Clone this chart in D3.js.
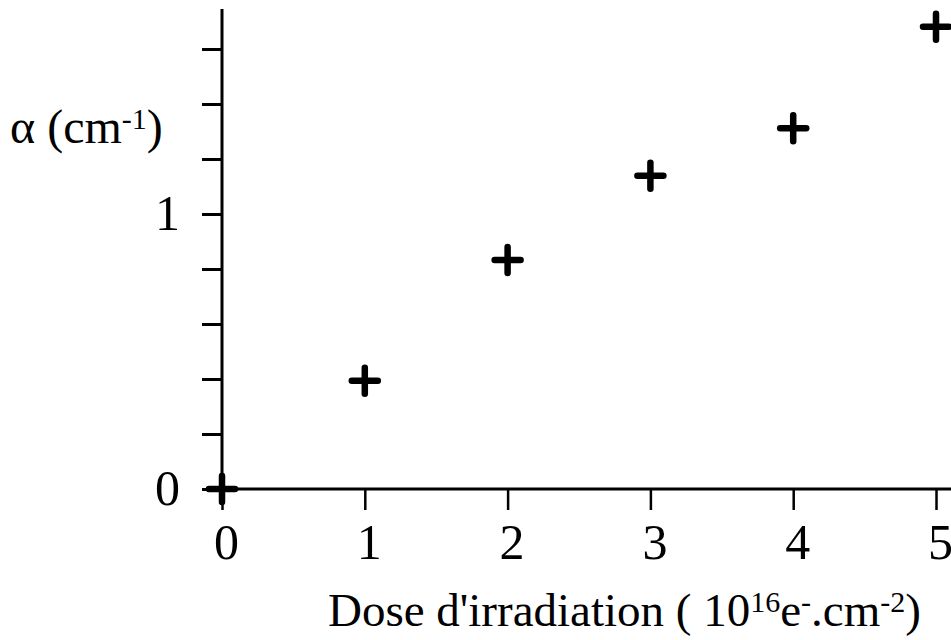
<!DOCTYPE html>
<html>
<head>
<meta charset="utf-8">
<script src="https://cdn.jsdelivr.net/npm/d3@7"></script>
<style>
  html, body { margin: 0; padding: 0; background: #fff; }
  svg { display: block; }
  text { font-family: "Liberation Serif", "DejaVu Serif", serif; fill: #000; }
</style>
</head>
<body>
<svg id="chart" width="951" height="640"></svg>
<script>
// Irradiation dose (10^16 e-/cm2) and absorption coefficient alpha (cm-1)
const doses = [0, 1, 2, 3, 4, 5];
const alphas = [0, 0.394, 0.833, 1.139, 1.312, 1.681];
const xTicks = [0, 1, 2, 3, 4, 5];
const yTicks = [0, 0.2, 0.4, 0.6, 0.8, 1, 1.2, 1.4, 1.6];
const yLabelled = [0, 1];

const svg = d3.select("#chart");

const x = d3.scaleLinear().domain([0, 5]).range([222, 936]);
const y = d3.scaleLinear().domain([0, 1]).range([489, 214]);

// Axis lines
svg.append("line")
  .attr("x1", 215).attr("x2", 951)
  .attr("y1", y(0)).attr("y2", y(0))
  .attr("stroke", "#000").attr("stroke-width", 3);
svg.append("line")
  .attr("x1", x(0)).attr("x2", x(0))
  .attr("y1", 9).attr("y2", y(0) + 2)
  .attr("stroke", "#000").attr("stroke-width", 3);

// X axis ticks and labels
const xAxis = d3.axisBottom(x)
  .tickValues(xTicks)
  .tickSize(21)
  .tickPadding(13)
  .tickFormat(d3.format("d"));
const gx = svg.append("g")
  .attr("transform", `translate(0,${y(0)})`)
  .call(xAxis);
gx.select(".domain").remove();
gx.selectAll(".tick line").attr("stroke", "#000").attr("stroke-width", 2.5);
gx.selectAll(".tick text")
  .attr("font-family", "Liberation Serif, serif")
  .attr("font-size", 50)
  .attr("dx", 4)
  .attr("fill", "#000");

// Y axis ticks and labels
const yAxis = d3.axisLeft(y)
  .tickValues(yTicks)
  .tickSize(20)
  .tickPadding(22)
  .tickFormat(d => yLabelled.includes(d) ? d3.format("d")(d) : "");
const gy = svg.append("g")
  .attr("transform", `translate(${x(0)},0)`)
  .call(yAxis);
gy.select(".domain").remove();
gy.selectAll(".tick line").attr("stroke", "#000").attr("stroke-width", 3);
gy.selectAll(".tick text")
  .attr("font-family", "Liberation Serif, serif")
  .attr("font-size", 50)
  .attr("dy", "0.3em")
  .attr("fill", "#000");

// Data markers: bold plus signs
const arm = 13;
const marks = svg.append("g")
  .selectAll("g")
  .data(doses.map((d, i) => ({ d, a: alphas[i] })))
  .join("g")
  .attr("transform", p => `translate(${x(p.d)},${y(p.a)})`);
marks.append("line")
  .attr("x1", -arm).attr("x2", arm).attr("y1", 0).attr("y2", 0)
  .attr("stroke", "#000").attr("stroke-width", 6.5).attr("stroke-linecap", "round");
marks.append("line")
  .attr("x1", 0).attr("x2", 0).attr("y1", -arm).attr("y2", arm)
  .attr("stroke", "#000").attr("stroke-width", 6.5).attr("stroke-linecap", "round");

// Y axis title
const yt = svg.append("text")
  .attr("x", 10).attr("y", 143)
  .attr("font-size", 48);
yt.append("tspan").text("α (cm");
yt.append("tspan").attr("font-size", 30).attr("dy", -14).text("-1");
yt.append("tspan").attr("dy", 14).text(")");

// X axis title
const xt = svg.append("text")
  .attr("x", 328).attr("y", 626)
  .attr("font-size", 47);
xt.append("tspan").text("Dose d'irradiation ( 10");
xt.append("tspan").attr("font-size", 30).attr("dy", -14).text("16");
xt.append("tspan").attr("dy", 14).text("e");
xt.append("tspan").attr("font-size", 30).attr("dy", -14).text("-");
xt.append("tspan").attr("dy", 14).text(".cm");
xt.append("tspan").attr("font-size", 30).attr("dy", -14).text("-2");
xt.append("tspan").attr("dy", 14).text(")");
</script>
</body>
</html>
